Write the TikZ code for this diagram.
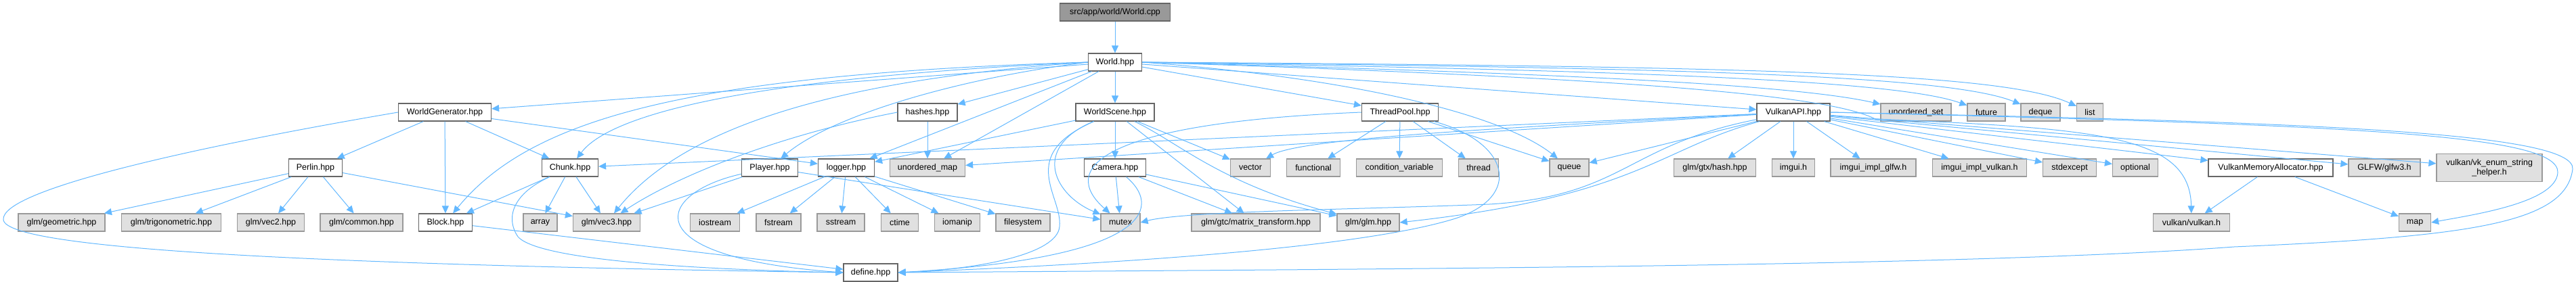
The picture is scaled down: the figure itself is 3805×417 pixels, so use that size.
\documentclass[tikz,border=0pt]{standalone}
\usepackage{fontspec}
\setmainfont{Liberation Sans}
\usetikzlibrary{arrows.meta}
\definecolor{edgeblue}{HTML}{63B8FF}
\definecolor{boxgray}{HTML}{E0E0E0}
\definecolor{rimgray}{HTML}{999999}
\definecolor{rimdark}{HTML}{666666}
\tikzset{
  hdr/.style={draw=rimdark, fill=white, line width=1.2pt, minimum height=26pt, inner sep=2pt, font=\fontsize{12.5}{14}\selectfont},
  ext/.style={hdr, draw=rimgray, fill=boxgray},
  dep/.style={draw=edgeblue, line width=1pt, -{Triangle[length=11pt,width=10pt]}},
}
\begin{document}
\begin{tikzpicture}[x=1pt,y=-1pt]
\useasboundingbox (0,0) rectangle (3805,417);
% rows 0 and 1
\node[hdr, fill=rimgray, minimum width=163pt] (root) at (1647,18) {src/app/world/World.cpp};
\node[hdr, minimum width=79pt] (world) at (1647,92) {World.hpp};
% row 2
\node[hdr, minimum width=137pt] (wgen) at (657,166) {WorldGenerator.hpp};
\node[hdr, minimum width=88pt] (hashes) at (1370,166) {hashes.hpp};
\node[hdr, minimum width=116pt] (wscene) at (1647,166) {WorldScene.hpp};
\node[hdr, minimum width=113pt] (tpool) at (2068,166) {ThreadPool.hpp};
\node[hdr, minimum width=108pt] (vkapi) at (2649,166) {VulkanAPI.hpp};
\node[ext, minimum width=104pt] (uset) at (2830,166) {unordered\_set};
\node[ext, minimum width=56pt] (future) at (2934,166) {future};
\node[ext, minimum width=58pt] (deque) at (3014,166) {deque};
\node[ext, minimum width=39pt] (list) at (3087,166) {list};
% row 3
\node[hdr, minimum width=79pt] (perlin) at (466,248) {Perlin.hpp};
\node[hdr, minimum width=83pt] (chunk) at (842,248) {Chunk.hpp};
\node[hdr, minimum width=83pt] (player) at (1137,248) {Player.hpp};
\node[hdr, minimum width=83pt] (logger) at (1250,248) {logger.hpp};
\node[ext, minimum width=111pt] (umap) at (1370,248) {unordered\_map};
\node[hdr, minimum width=91pt] (camera) at (1647,248) {Camera.hpp};
\node[ext, minimum width=59pt] (vector) at (1847,248) {vector};
\node[ext, minimum width=79pt] (functional) at (1940,248) {functional};
\node[ext, minimum width=127pt] (condvar) at (2067,248) {condition\_variable};
\node[ext, minimum width=59pt] (thread) at (2184,248) {thread};
\node[ext, minimum width=58pt] (queue) at (2318,248) {queue};
\node[ext, minimum width=121pt] (gtxhash) at (2533,248) {glm/gtx/hash.hpp};
\node[ext, minimum width=63pt] (imgui) at (2649,248) {imgui.h};
\node[ext, minimum width=126pt] (imglfw) at (2767,248) {imgui\_impl\_glfw.h};
\node[ext, minimum width=139pt] (imvk) at (2924,248) {imgui\_impl\_vulkan.h};
\node[ext, minimum width=79pt] (stdexcept) at (3057,248) {stdexcept};
\node[ext, minimum width=67pt] (optional) at (3154,248) {optional};
\node[hdr, minimum width=184pt] (vma) at (3354,248) {VulkanMemoryAllocator.hpp};
\node[ext, minimum width=106pt] (glfw) at (3522,248) {GLFW/glfw3.h};
\node[ext, minimum width=156pt, minimum height=41pt, align=center] (vkenum) at (3677,248) {vulkan/vk\_enum\_string\\\_helper.h};
% row 4
\node[ext, minimum width=128pt] (geometric) at (91,329) {glm/geometric.hpp};
\node[ext, minimum width=147pt] (trig) at (253,329) {glm/trigonometric.hpp};
\node[ext, minimum width=99pt] (vectwo) at (400,329) {glm/vec2.hpp};
\node[ext, minimum width=122pt] (common) at (534,329) {glm/common.hpp};
\node[hdr, minimum width=79pt] (block) at (658,329) {Block.hpp};
\node[ext, minimum width=50pt] (array) at (798,329) {array};
\node[ext, minimum width=99pt] (vecthree) at (896,329) {glm/vec3.hpp};
\node[ext, minimum width=73pt] (iostream) at (1056,329) {iostream};
\node[ext, minimum width=66pt] (fstream) at (1150,329) {fstream};
\node[ext, minimum width=70pt] (sstream) at (1242,329) {sstream};
\node[ext, minimum width=55pt] (ctime) at (1329,329) {ctime};
\node[ext, minimum width=67pt] (iomanip) at (1414,329) {iomanip};
\node[ext, minimum width=80pt] (filesystem) at (1511,329) {filesystem};
\node[ext, minimum width=58pt] (mutex) at (1655,329) {mutex};
\node[ext, minimum width=190pt] (mattrans) at (1855,329) {glm/gtc/matrix\_transform.hpp};
\node[ext, minimum width=92pt] (glmh) at (2021,329) {glm/glm.hpp};
\node[ext, minimum width=113pt] (vulkanh) at (3237,329) {vulkan/vulkan.h};
\node[ext, minimum width=47pt] (map) at (3567,329) {map};
% row 5
\node[hdr, minimum width=80pt] (define) at (1286,403) {define.hpp};
% straight includes
\foreach \a/\b in {root/world, world/wgen, world/logger, world/hashes, world/umap, world/wscene,
    world/tpool, world/vkapi, wgen/perlin, wgen/block, wgen/chunk, wgen/logger,
    perlin/geometric, perlin/trig, perlin/vectwo, perlin/common, perlin/vecthree,
    chunk/block, chunk/array, chunk/vecthree, block/define, player/vecthree, player/mutex,
    hashes/umap, logger/iostream, logger/fstream, logger/sstream, logger/ctime,
    logger/iomanip, logger/filesystem, wscene/camera, wscene/vector, wscene/mattrans,
    wscene/logger, camera/mutex, camera/mattrans, camera/glmh, tpool/functional,
    tpool/condvar, tpool/thread, tpool/queue, vkapi/chunk, vkapi/umap, vkapi/queue,
    vkapi/gtxhash, vkapi/imgui, vkapi/imglfw, vkapi/imvk, vkapi/stdexcept, vkapi/optional,
    vkapi/vma, vkapi/glfw, vkapi/vkenum, vma/vulkanh, vma/map}
  \draw[dep] (\a) -- (\b);
% curved includes
\draw[dep] (world.east) .. controls (2300,108) and (2650,125) .. (uset);
\draw[dep] (world.east) .. controls (2400,104) and (2800,118) .. (future);
\draw[dep] (world.east) .. controls (2500,100) and (2880,112) .. (deque);
\draw[dep] (world.east) .. controls (2600,98) and (2960,108) .. (list);
\draw[dep] (world.west) .. controls (1000,110) and (780,180) .. (block);
\draw[dep] (world.west) .. controls (1100,115) and (900,170) .. (chunk);
\draw[dep] (world.west) .. controls (1200,120) and (1000,200) .. (vecthree);
\draw[dep] (world.west) .. controls (1420,115) and (1230,170) .. (player);
\draw[dep] (world.east) .. controls (2000,115) and (2220,170) .. (queue);
\draw[dep] (world.east) .. controls (2400,115) and (2700,140) .. (2770,176) .. controls (3100,190) and (3235,200) .. (vulkanh);
\draw[dep] (wgen.west) .. controls (300,215) and (0,280) .. (5,325) .. controls (10,370) and (500,392) .. (define.west);
\draw[dep] (hashes.west) .. controls (1150,200) and (1000,260) .. (vecthree);
\draw[dep] (chunk) .. controls (760,285) and (745,320) .. (765,350) .. controls (800,390) and (1100,400) .. (define.west);
\draw[dep] (player) .. controls (970,285) and (930,380) .. (define.west);
\draw[dep] (wscene) .. controls (1500,230) and (1570,290) .. (1565,335) .. controls (1562,375) and (1450,398) .. (define.east);
\draw[dep] (wscene) .. controls (1520,220) and (1560,290) .. (mutex);
\draw[dep] (wscene) .. controls (1740,210) and (1800,270) .. (glmh);
\draw[dep] (camera) .. controls (1710,300) and (1720,380) .. (define.east);
\draw[dep] (tpool) .. controls (2230,210) and (2250,290) .. (2150,323) .. controls (2000,370) and (1600,392) .. (define.east);
\draw[dep] (tpool.west) .. controls (1620,182) and (1565,250) .. (mutex);
\draw[dep] (vkapi) .. controls (2200,190) and (1920,205) .. (vector);
\draw[dep] (vkapi) .. controls (2400,215) and (2400,290) .. (2200,302) .. controls (2000,310) and (1750,312) .. (mutex.east);
\draw[dep] (vkapi) .. controls (2450,220) and (2420,290) .. (glmh.east);
\draw[dep] (vkapi.east) .. controls (3500,185) and (3780,200) .. (3778,255) .. controls (3776,300) and (3650,318) .. (map.east);
\draw[dep] (vkapi.east) .. controls (3400,180) and (3805,195) .. (3800,250) .. controls (3790,330) and (3650,350) .. (3300,365) .. controls (2900,395) and (2000,398) .. (define.east);
\end{tikzpicture}
\end{document}
